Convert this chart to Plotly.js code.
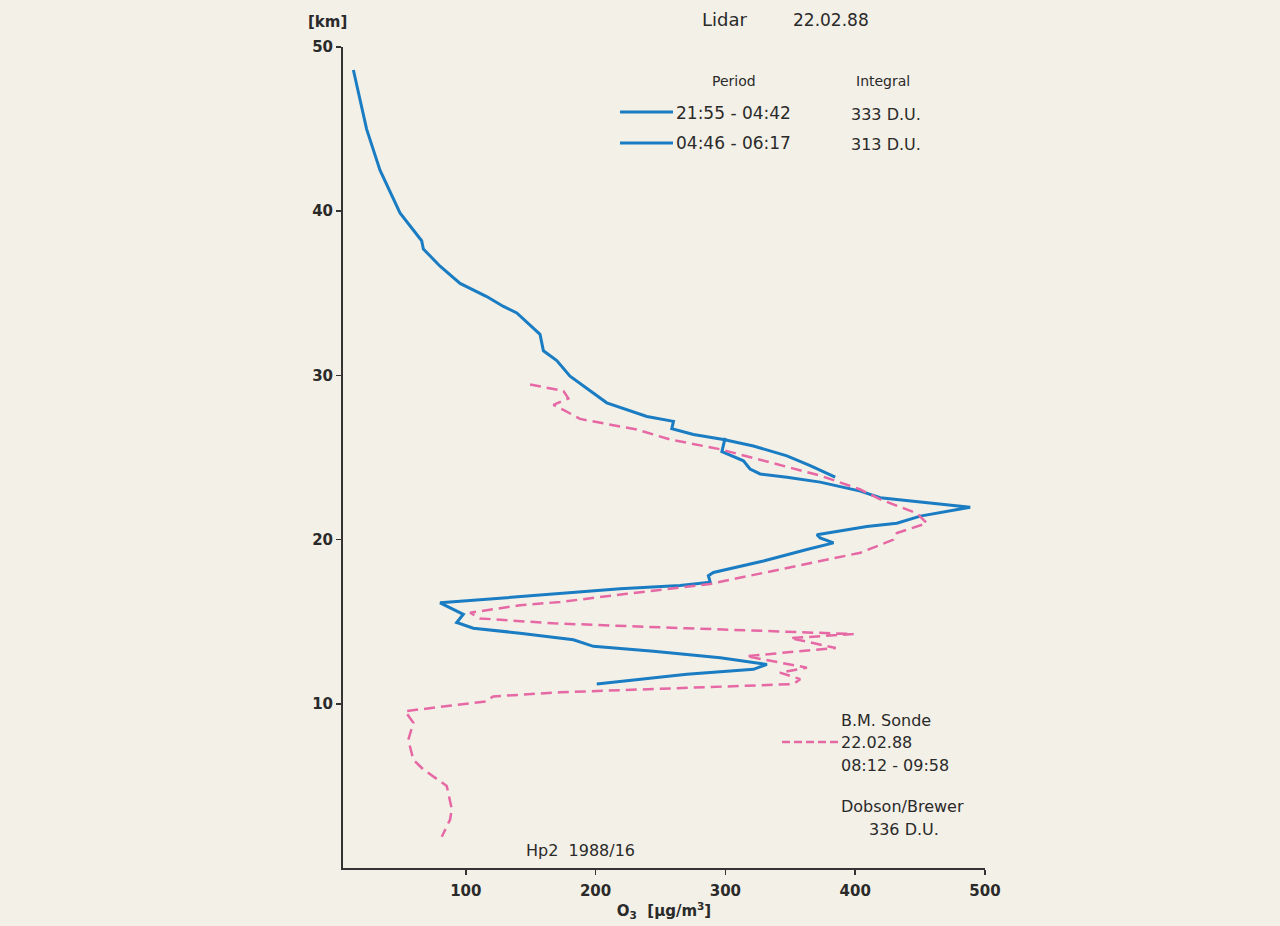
<!DOCTYPE html>
<html>
<head>
<meta charset="utf-8">
<script src="https://cdn.plot.ly/plotly-3.0.1.min.js"></script>
<style>
html,body{margin:0;padding:0;background:#f3f0e7;}
#chart{width:1280px;height:926px;}
</style>
</head>
<body>
<div id="chart"></div>
<script>
// ---- Data (O3 concentration in µg/m3 vs altitude in km) ----
// Lidar profile, first part (upper profile down to the upper branch)
const lidarA_o3 = [13.4, 23.6, 33.9, 49.3, 66, 67.3, 80.2, 95.6, 116.1, 129, 139.3, 157.2, 159.8, 170.1, 180.3, 190.6, 208.6, 239.5, 260, 258.7, 275.4, 298.5, 321.6, 347.4, 365.3, 384.6];
const lidarA_km = [48.6, 45.0, 42.5, 39.9, 38.2, 37.7, 36.65, 35.6, 34.8, 34.2, 33.8, 32.5, 31.5, 30.9, 29.95, 29.35, 28.33, 27.5, 27.2, 26.75, 26.4, 26.1, 25.7, 25.1, 24.5, 23.8];
// Lidar profile, second part (lower branch down to 11 km)
const lidarB_o3 = [299.8, 297.3, 313.9, 319, 326.8, 347.4, 373, 404, 419.3, 488.6, 450.1, 432.1, 409, 370.5, 373, 383.3, 362.8, 329.3, 290.8, 286.9, 288.3, 265.1, 218.9, 141.8, 80.2, 98.1, 93, 105.8, 141.8, 182.9, 198.3, 244.6, 296, 332, 321.6, 270.3, 200.9];
const lidarB_km = [26.2, 25.36, 24.8, 24.3, 24.0, 23.8, 23.5, 22.95, 22.55, 21.97, 21.43, 21.0, 20.8, 20.3, 20.1, 19.8, 19.4, 18.7, 18.0, 17.8, 17.4, 17.2, 17.0, 16.55, 16.15, 15.45, 14.95, 14.6, 14.3, 13.9, 13.5, 13.2, 12.8, 12.4, 12.1, 11.8, 11.2];
// Balloon sonde (B.M. Sonde 22.02.88)
const sonde_o3 = [149.5, 175.2, 179, 167.5, 175.2, 188, 231.7, 257.4, 296, 334.5, 373, 404, 419.3, 447.5, 455.2, 432.1, 429.5, 404, 367.9, 326.8, 288.3, 224, 172.6, 141.8, 103.3, 111, 167.5, 270.3, 347.4, 398.8, 350, 385, 316, 362.8, 342, 357.6, 352.5, 275, 172.6, 121, 116, 53.2, 59.6, 55.7, 59.6, 67.3, 85.3, 89.2, 87.9, 81.5];
const sonde_km = [29.45, 29.05, 28.6, 28.2, 27.9, 27.35, 26.7, 26.1, 25.5, 24.7, 23.9, 23.05, 22.45, 21.6, 21.0, 20.4, 20.0, 19.2, 18.6, 17.9, 17.3, 16.7, 16.2, 16.0, 15.55, 15.2, 14.9, 14.6, 14.4, 14.25, 14.0, 13.4, 12.9, 12.2, 11.9, 11.5, 11.2, 11.0, 10.7, 10.45, 10.15, 9.55, 8.85, 7.8, 6.6, 6.0, 5.0, 3.6, 2.95, 1.9];

const xTicks = [100, 200, 300, 400, 500];
const yTicks = [10, 20, 30, 40, 50];
const legendPeriods = ['21:55 - 04:42', '04:46 - 06:17'];
const legendIntegrals = ['333 D.U.', '313 D.U.'];

// ---- Layout helpers (pixel -> paper) ----
const L = 343, R = 985, T = 47, B = 868;
const W = 1280, H = 926;
const px = v => (v - L) / (R - L);
const py = v => (B - v) / (B - T);

const BLUE = 'rgb(26,124,194)';
const PINK = 'rgb(230,104,164)';
const INK = '#2a2a2a';
const FONT = 'DejaVu Sans, Verdana, sans-serif';

const traces = [
  {x: lidarA_o3, y: lidarA_km, mode: 'lines', line: {color: BLUE, width: 3}, name: legendPeriods[0], showlegend: false, hoverinfo: 'x+y'},
  {x: lidarB_o3, y: lidarB_km, mode: 'lines', line: {color: BLUE, width: 3}, name: legendPeriods[1], showlegend: false, hoverinfo: 'x+y'},
  {x: sonde_o3, y: sonde_km, mode: 'lines', line: {color: PINK, width: 2.5, dash: '11px,6px'}, name: 'B.M. Sonde', showlegend: false, hoverinfo: 'x+y'}
];

function txt(text, x, y, size, anchor, weight) {
  return {
    text: text, xref: 'paper', yref: 'paper', x: px(x), y: py(y),
    xanchor: anchor || 'left', yanchor: 'middle', showarrow: false,
    font: {family: FONT, size: size, color: INK, weight: weight || 'normal'}
  };
}

const annotations = [
  txt('[km]', 327, 22, 15, 'center', 'bold'),
  txt('22.02.88', 791, 20, 17, 'left'),
  txt('Period', 734, 81, 14, 'center'),
  txt('Integral', 883, 81, 14, 'center'),
  txt(legendPeriods[0], 674, 113, 17),
  txt(legendPeriods[1], 674, 143, 17),
  txt(legendIntegrals[0], 849, 114, 16),
  txt(legendIntegrals[1], 849, 145, 16),
  txt('B.M. Sonde', 839, 720, 16),
  txt('22.02.88', 839, 742, 16),
  txt('08:12 - 09:58', 839, 765, 16),
  txt('Dobson/Brewer', 839, 806, 16),
  txt('336 D.U.', 867, 829, 16),
  txt('Hp2  1988/16', 524, 850, 16)
];

const shapes = [
  {type: 'line', xref: 'paper', yref: 'paper', x0: px(620), x1: px(673), y0: py(112), y1: py(112), line: {color: BLUE, width: 3}},
  {type: 'line', xref: 'paper', yref: 'paper', x0: px(620), x1: px(673), y0: py(143), y1: py(143), line: {color: BLUE, width: 3}},
  {type: 'line', xref: 'paper', yref: 'paper', x0: px(782), x1: px(838), y0: py(742), y1: py(742), line: {color: PINK, width: 2.5, dash: '8px,4px'}}
];

const layout = {
  width: W, height: H,
  paper_bgcolor: '#f3f0e7', plot_bgcolor: '#f3f0e7',
  margin: {l: L, r: W - R, t: T, b: H - B, pad: 0},
  font: {family: FONT, color: INK},
  title: {
    text: 'Lidar',
    x: 702 / W, xanchor: 'left', xref: 'container',
    y: 1 - 20 / H, yanchor: 'middle', yref: 'container',
    font: {family: FONT, size: 18, color: INK}
  },
  xaxis: {
    range: [5.4, 500], showgrid: false, zeroline: false,
    showline: true, linecolor: '#333', linewidth: 2,
    ticks: 'outside', ticklen: 5, tickwidth: 1.5, tickcolor: '#333',
    ticklabelstandoff: 3,
    tickvals: xTicks, ticktext: xTicks.map(String),
    tickfont: {family: FONT, size: 15, color: INK, weight: 'bold'},
    title: {text: 'O<sub>3</sub>  [µg/m<sup>3</sup>]', font: {family: FONT, size: 15, color: INK, weight: 'bold'}, standoff: 4}
  },
  yaxis: {
    range: [0, 50], showgrid: false, zeroline: false,
    showline: true, linecolor: '#333', linewidth: 2,
    ticks: 'outside', ticklen: 5, tickwidth: 1.5, tickcolor: '#333',
    tickvals: yTicks, ticktext: yTicks.map(String),
    tickfont: {family: FONT, size: 15, color: INK, weight: 'bold'}
  },
  annotations: annotations,
  shapes: shapes,
  showlegend: false
};

Plotly.newPlot('chart', traces, layout, {displayModeBar: false, staticPlot: true});
</script>
</body>
</html>
